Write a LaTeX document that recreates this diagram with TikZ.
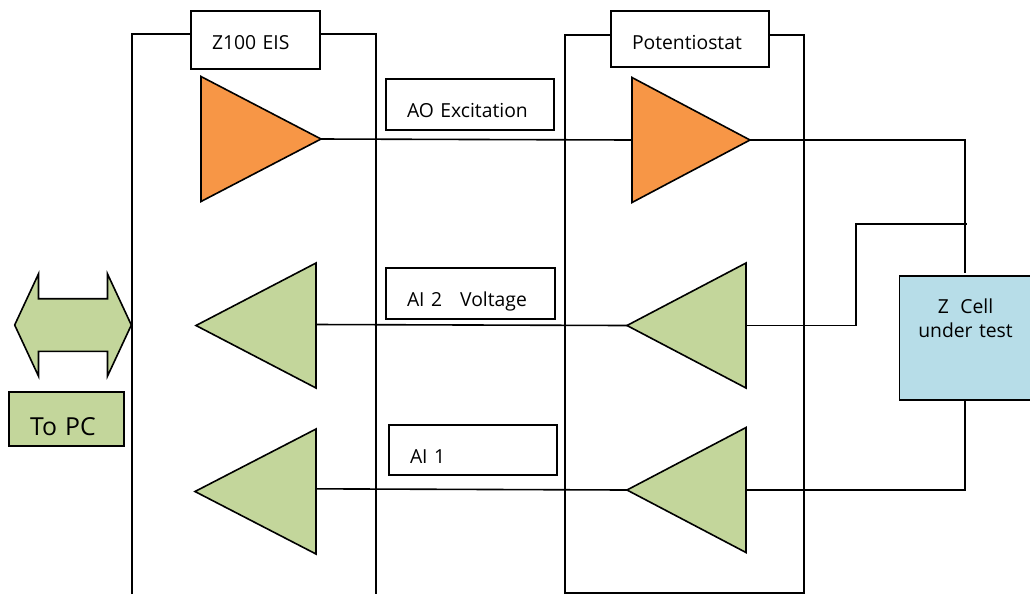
\documentclass[tikz,border=0pt]{standalone}
\usepackage{fontspec}
\setmainfont{Open Sans}
\usetikzlibrary{shapes.geometric,shapes.arrows,positioning}
\definecolor{orangeampli}{RGB}{247,150,70}
\definecolor{vertampli}{RGB}{195,214,155}
\definecolor{bleucell}{RGB}{183,221,232}

\begin{document}
\begin{tikzpicture}[x=0.75pt, y=-0.75pt, line width=1.2pt, font=\fontsize{14.5}{17}\selectfont,
  boite/.style={draw, fill=white, anchor=north west, outer sep=0pt, inner xsep=15.75pt, inner ysep=0pt, text height=28.5pt, text depth=9.75pt, align=left},
  ampli/.style={draw, shape=isosceles triangle, isosceles triangle stretches, minimum width=93.75pt, minimum height=90pt, inner sep=0pt, outer sep=0pt, anchor=apex},
  versdroite/.style={ampli, fill=orangeampli},
  versgauche/.style={ampli, fill=vertampli, shape border rotate=180},
  fil/.style={line join=miter}]
\useasboundingbox (0,0) rectangle (1030,594);

\draw (132,594) -- (132,34) -- (376,34) -- (376,594);
\draw (565,35) rectangle (804,593);

\node[boite, text width=65.25pt, text depth=15pt] (eis) at (191,11) {Z100 EIS};
\node[boite, text width=87pt, text depth=13.5pt] (pot) at (611,11) {Potentiostat};
\node[boite, text width=94.5pt] (ao) at (386,79) {AO Excitation};
\node[boite, text width=95.25pt, text depth=9.75pt] (aideux) at (386,268) {AI 2\hspace{0.6em} Voltage};
\node[boite, text width=94.5pt, text depth=9pt] (aiun) at (389,425) {AI 1};

\node[versdroite] (exa) at (321,139) {};
\node[versdroite, minimum height=88.5pt] (exb) at (750,140) {};
\node[versgauche] (va) at (196,325.5) {};
\node[versgauche, minimum height=89.25pt] (vb) at (627,325.5) {};
\node[versgauche, minimum height=90.75pt] (ia) at (195,491.5) {};
\node[versgauche, minimum height=89.25pt] (ib) at (627,490) {};

\node[draw, fill=vertampli, shape=double arrow, double arrow head indent=0pt, double arrow tip angle=130, double arrow head extend=18.6pt, minimum height=87.5pt, text height=38.25pt, inner sep=0pt, outer sep=0pt] (bus) at (73,325) {};
\node[boite, fill=vertampli, font=\fontsize{18.6}{21}\selectfont, text width=54.75pt, text height=32.25pt, text depth=8.25pt] (pc) at (9,392) {To PC};

\node[draw, fill=bleucell, anchor=north, outer sep=0pt, inner xsep=0pt, inner ysep=0pt, text width=99pt, text height=28pt, text depth=65pt, align=center] (cell) at (965.5,276) {Z\hspace{0.6em}Cell\\[1pt]under test};

\coordinate (haut) at (965,273);
\coordinate (jonc) at (966.5,224);

\draw[fil] (exa.apex) -- (exb.lower side);
\draw[fil] ([yshift=0.75pt]va.lower side) -- (vb.apex);
\draw[fil] ([yshift=2pt]ia.lower side) -- (ib.apex);
\draw[fil] (exb.apex) -| (haut);
\draw[fil] (vb.lower side) -- (856,325.5) |- (jonc);
\draw[fil] ([xshift=-0.4pt]cell.south) |- (ib.lower side);
\end{tikzpicture}
\end{document}
